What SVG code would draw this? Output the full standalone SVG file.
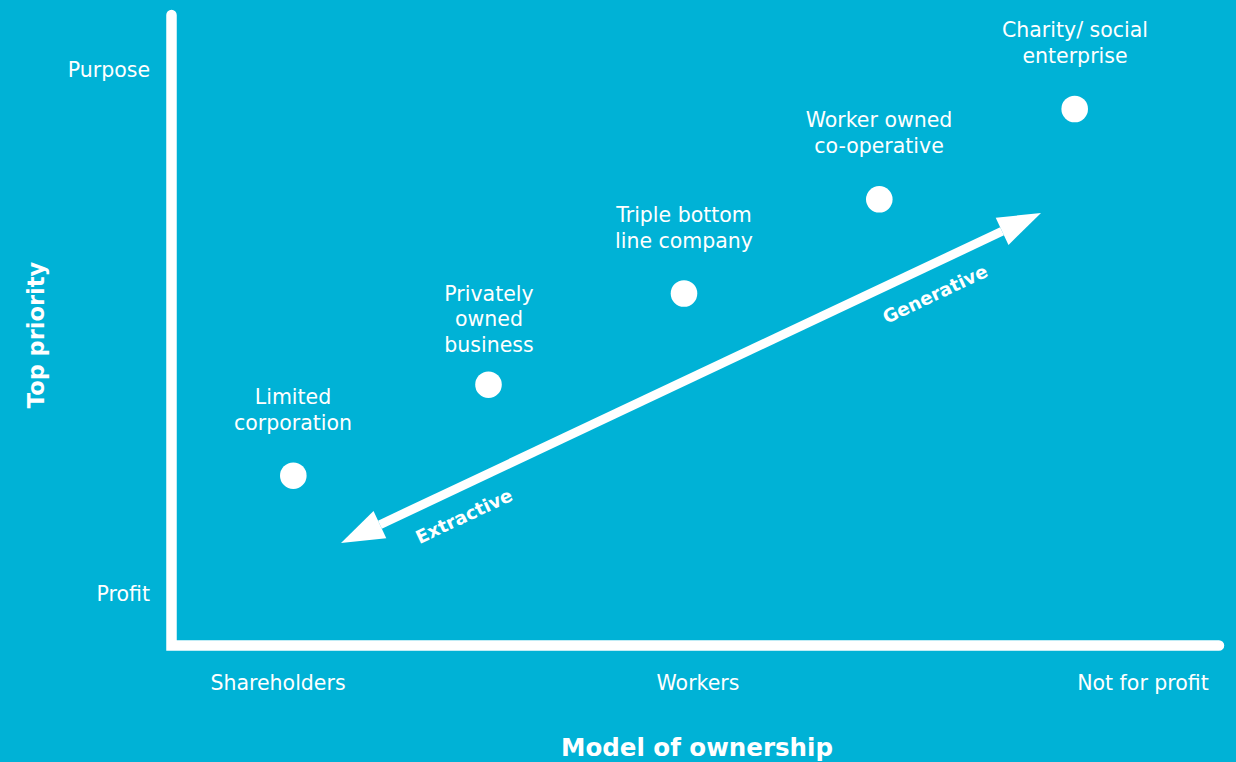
<svg xmlns="http://www.w3.org/2000/svg" width="1236" height="762" viewBox="0 0 1236 762">
<style>
.lbl{font-family:"DejaVu Sans","Liberation Sans",sans-serif;font-size:20.5px;fill:#fff;}
.c{text-anchor:middle;}
.e{text-anchor:end;}
.bold{font-family:"DejaVu Sans","Liberation Sans",sans-serif;font-weight:bold;fill:#fff;}
.dot{fill:#fff;}
</style>
<rect x="0" y="0" width="1236" height="762" fill="#00B2D6"/>
<g id="axes">
<polyline points="171.5,15 171.5,645.5 1219,645.5" fill="none" stroke="#fff" stroke-width="10.5" stroke-linecap="round" stroke-linejoin="miter"/>
<text class="lbl e" x="150" y="77">Purpose</text>
<text class="lbl e" x="150" y="601">Profit</text>
<text class="lbl c" x="278" y="690">Shareholders</text>
<text class="lbl c" x="698" y="690">Workers</text>
<text class="lbl c" x="1143" y="690">Not for profit</text>
<text class="bold" x="697" y="756" font-size="24.5" text-anchor="middle">Model of ownership</text>
<text class="bold" transform="translate(44,335) rotate(-90)" x="0" y="0" font-size="22.5" text-anchor="middle">Top priority</text>
</g>
<g id="connectors">
<line x1="379.9" y1="524.7" x2="1002.1" y2="231.3" stroke="#fff" stroke-width="9"/>
<polygon points="341,543 386.3,538.3 373.5,511.1" fill="#fff"/>
<polygon points="1041,213 995.7,217.7 1008.5,244.9" fill="#fff"/>
<text class="bold" transform="translate(464,516) rotate(-25.2)" x="0" y="6.5" font-size="18.3" text-anchor="middle">Extractive</text>
<text class="bold" transform="translate(935,294) rotate(-25.2)" x="0" y="6.5" font-size="18.3" text-anchor="middle">Generative</text>
</g>
<g id="limited">
<circle class="dot" cx="293.3" cy="475.7" r="13.3"/>
<text class="lbl c" x="293" y="404">Limited</text>
<text class="lbl c" x="293" y="430">corporation</text>
</g>
<g id="private">
<circle class="dot" cx="488.5" cy="384.7" r="13.3"/>
<text class="lbl c" x="489" y="301">Privately</text>
<text class="lbl c" x="489" y="326">owned</text>
<text class="lbl c" x="489" y="352">business</text>
</g>
<g id="triple">
<circle class="dot" cx="684" cy="293.5" r="13.3"/>
<text class="lbl c" x="684" y="222">Triple bottom</text>
<text class="lbl c" x="684" y="248">line company</text>
</g>
<g id="worker">
<circle class="dot" cx="879.3" cy="199.3" r="13.3"/>
<text class="lbl c" x="879" y="127">Worker owned</text>
<text class="lbl c" x="879" y="153">co-operative</text>
</g>
<g id="charity">
<circle class="dot" cx="1074.7" cy="109" r="13.3"/>
<text class="lbl c" x="1075" y="37">Charity/ social</text>
<text class="lbl c" x="1075" y="63">enterprise</text>
</g>
</svg>
